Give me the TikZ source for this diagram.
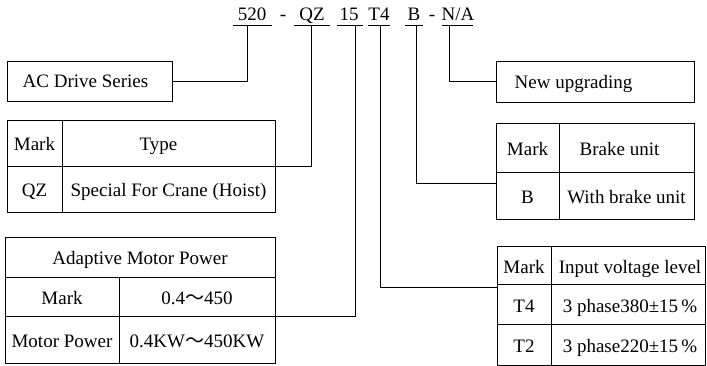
\documentclass[tikz,border=0pt]{standalone}
\usepackage{fontspec}
\setmainfont{Liberation Serif}
\newfontfamily\cjkfont{Noto Sans CJK SC}
\newcommand{\ftilde}{{\cjkfont ～}}
\usetikzlibrary{calc}
\tikzset{
  lbl/.style={font=\fontsize{19}{22}\selectfont, inner sep=0pt, anchor=base},
  cell/.style={draw, line width=0.8pt, inner sep=0pt, font=\fontsize{19}{22}\selectfont,
               text height=16pt, text depth=0pt},
  conn/.style={draw, line width=0.8pt},
  uline/.style={draw, line width=0.8pt}
}
\begin{document}
\begin{tikzpicture}[x=1pt,y=-1pt]
\useasboundingbox (0,0) rectangle (707,366);

% ---- top code line ----
\node[lbl] (c520) at (252,20.5) {520};
\node[lbl] (d1)   at (283,20.5) {-};
\node[lbl] (cqz)  at (312,20.5) {QZ};
\node[lbl] (c15)  at (349,20.5) {15};
\node[lbl] (ct4)  at (379,20.5) {T4};
\node[lbl] (cb)   at (414,20.5) {B};
\node[lbl] (d2)   at (432,20.5) {-};
\node[lbl] (cna)  at (458,20.5) {N/A};
\path[uline] (233,25) -- (272,25);
\path[uline] (294,25) -- (330,25);
\path[uline] (337,25) -- (363,25);
\path[uline] (368,25) -- (390,25);
\path[uline] (405,25) -- (423,25);
\path[uline] (442,25) -- (473,25);
\coordinate (j520) at (247,25);
\coordinate (jqz)  at (311,25);
\coordinate (j15)  at (355,25);
\coordinate (jt4)  at (380,25);
\coordinate (jb)   at (416,25);
\coordinate (jna)  at (449,25);

% ---- AC Drive Series ----
\node[cell, minimum width=165pt, minimum height=40pt] (ac) at (89.5,81) {};
\node[lbl] (actxt) at (85.5,88) {AC Drive Series};

% ---- Type table ----
\node[cell, minimum width=55pt,  minimum height=46pt] (tmark) at (34.5,143) {Mark};
\node[cell, minimum width=213pt, minimum height=46pt] (ttype) at (168.5,143) {Type\kern20pt};
\node[cell, minimum width=55pt,  minimum height=46pt] (tqz)   at (34.5,189) {QZ};
\node[cell, minimum width=213pt, minimum height=46pt] (tspec) at (168.5,189) {Special For Crane (Hoist)};

% ---- Adaptive Motor Power table ----
\node[cell, minimum width=270pt, minimum height=40pt] (mhead) at (140,257) {Adaptive Motor Power};
\node[cell, minimum width=114pt, minimum height=39pt] (mmark) at (62,296.5) {Mark};
\node[cell, minimum width=156pt, minimum height=39pt] (mrng)  at (197,296.5) {0.4\ftilde450};
\node[cell, minimum width=114pt, minimum height=47pt] (mmp)   at (62,339.5) {Motor Power};
\node[cell, minimum width=156pt, minimum height=47pt] (mkw)   at (197,339.5) {0.4KW\ftilde450KW};

% ---- New upgrading ----
\node[cell, minimum width=198pt, minimum height=41pt] (nu) at (595,81.5) {};
\node[lbl] (nutxt) at (573.5,89) {New upgrading};

% ---- Brake unit table ----
\node[cell, minimum width=63pt,  minimum height=49pt] (bmark) at (527.5,147.5) {Mark};
\node[cell, minimum width=135pt, minimum height=49pt] (bunit) at (626.5,147.5) {Brake unit\kern14pt};
\node[cell, minimum width=63pt,  minimum height=47pt] (bb)    at (527.5,195.5) {B};
\node[cell, minimum width=135pt, minimum height=47pt] (bwith) at (626.5,195.5) {With brake unit};

% ---- Input voltage table ----
\node[cell, minimum width=54pt,  minimum height=38pt] (vmark) at (524,265) {Mark};
\node[cell, minimum width=154pt, minimum height=38pt] (vin)   at (628,265) {\kern4pt Input voltage level};
\node[cell, minimum width=54pt,  minimum height=40pt] (vt4)   at (524,304) {T4};
\node[cell, minimum width=154pt, minimum height=40pt] (v380)  at (628,304) {\kern4pt 3 phase380±15\,\%};
\node[cell, minimum width=54pt,  minimum height=41pt] (vt2)   at (524,344.5) {T2};
\node[cell, minimum width=154pt, minimum height=41pt] (v220)  at (628,344.5) {\kern4pt 3 phase220±15\,\%};

% ---- connectors ----
\path[conn] (j520) |- (ac.east);
\path[conn] (jqz)  |- (ttype.south east);
\path[conn] (j15)  |- (mrng.south east);
\path[conn] (jt4)  |- ($(vt4.north west)+(0,4)$);
\path[conn] (jb)   |- ($(bb.north west)+(0,12)$);
\path[conn] (jna)  |- (nu.west);
\end{tikzpicture}
\end{document}
